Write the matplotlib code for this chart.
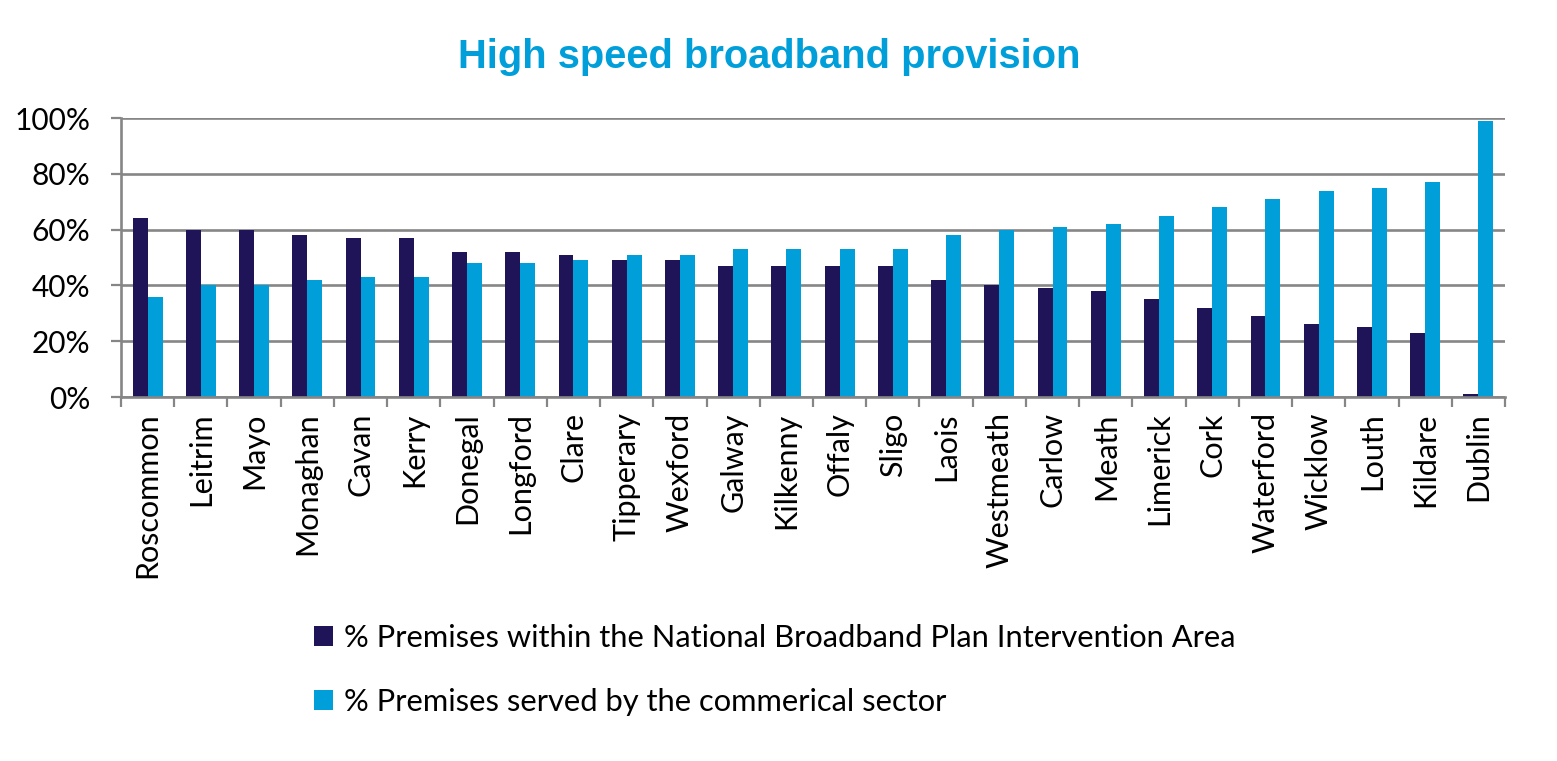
import numpy as np
import matplotlib
matplotlib.use('Agg')
import matplotlib.pyplot as plt
from matplotlib.ticker import FixedLocator, PercentFormatter

plt.rcParams['font.family'] = ['Lato', 'DejaVu Sans']

COUNTIES = ['Roscommon', 'Leitrim', 'Mayo', 'Monaghan', 'Cavan', 'Kerry', 'Donegal',
            'Longford', 'Clare', 'Tipperary', 'Wexford', 'Galway', 'Kilkenny', 'Offaly',
            'Sligo', 'Laois', 'Westmeath', 'Carlow', 'Meath', 'Limerick', 'Cork',
            'Waterford', 'Wicklow', 'Louth', 'Kildare', 'Dublin']
INTERVENTION = [64, 60, 60, 58, 57, 57, 52, 52, 51, 49, 49, 47, 47, 47, 47, 42, 40, 39,
                38, 35, 32, 29, 26, 25, 23, 1]
COMMERCIAL = [36, 40, 40, 42, 43, 43, 48, 48, 49, 51, 51, 53, 53, 53, 53, 58, 60, 61,
              62, 65, 68, 71, 74, 75, 77, 99]
LABELS = ['% Premises within the National Broadband Plan Intervention Area',
          '% Premises served by the commerical sector']

DARK, LIGHT, GRID = '#201458', '#009FDA', '#868686'
W, H = 1557, 761

fig = plt.figure(figsize=(W / 100, H / 100), dpi=100)
ax = fig.add_axes([121 / W, 1 - 397 / H, (1505 - 121) / W, (397 - 118) / H])

x = np.arange(len(COUNTIES))
bw = 0.28
ax.bar(x - bw / 2, INTERVENTION, width=bw, color=DARK, label=LABELS[0], zorder=3)
ax.bar(x + bw / 2, COMMERCIAL, width=bw, color=LIGHT, label=LABELS[1], zorder=3)

ax.set_xlim(-0.5, len(COUNTIES) - 0.5)
ax.set_ylim(0, 100)
ax.set_yticks(range(0, 101, 20))
ax.yaxis.set_major_formatter(PercentFormatter(decimals=0))
ax.set_xticks(x)
ax.set_xticklabels(COUNTIES, rotation=90, fontsize=22)
ax.xaxis.set_minor_locator(FixedLocator(np.arange(-0.5, len(COUNTIES), 1)))
ax.tick_params(axis='x', which='major', length=0, pad=11)
ax.tick_params(axis='x', which='minor', length=7, width=1.6, color=GRID)
ax.tick_params(axis='y', length=7, width=1.6, color=GRID, labelsize=21.5, pad=15)

ax.grid(axis='y', color=GRID, linewidth=1.9, zorder=0)
for s in ['top', 'right']:
    ax.spines[s].set_visible(False)
for s in ['left', 'bottom']:
    ax.spines[s].set_color(GRID)
    ax.spines[s].set_linewidth(1.9)
ax.spines['bottom'].set_zorder(4)

fig.text(769 / W, 1 - 57 / H, 'High speed broadband provision', ha='center', va='center',
         fontsize=28.7, fontweight='bold', color=LIGHT, family='Liberation Sans')

fig.legend(loc='center left', bbox_to_anchor=(314 / W, 1 - 670 / H), frameon=False,
           fontsize=22.2, handlelength=0.62, handleheight=0.62, handletextpad=0.35,
           labelspacing=1.15, borderpad=0, borderaxespad=0)

fig.savefig('out.png', dpi=100)
